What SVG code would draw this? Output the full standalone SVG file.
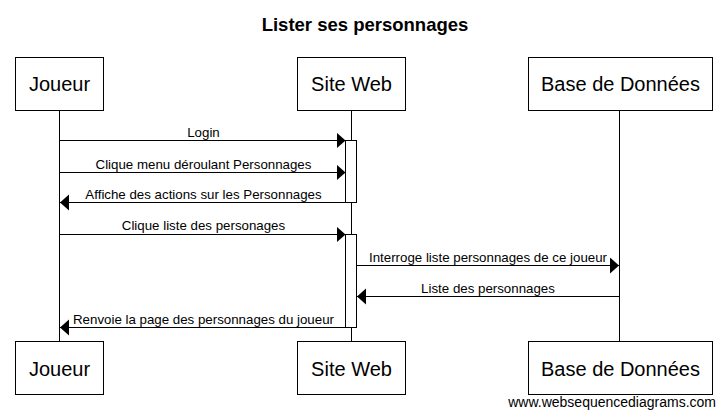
<svg xmlns="http://www.w3.org/2000/svg" width="726" height="419" viewBox="0 0 726 419">
<style>
text { font-family: "Liberation Sans", Arial, sans-serif; fill: #000; }
.title { font-size: 18.5px; font-weight: bold; text-anchor: middle; }
.actor rect { fill: #fff; stroke: #000; stroke-width: 1; }
.actor text { font-size: 20px; text-anchor: middle; }
.life { stroke: #000; stroke-width: 1; }
.act { fill: #fff; stroke: #000; stroke-width: 1; }
.msg line { stroke: #000; stroke-width: 1; marker-end: url(#arrow); }
.msg text { font-size: 13.3px; text-anchor: middle; }
.wm { font-size: 14px; text-anchor: end; }
</style>
<defs>
<marker id="arrow" markerUnits="userSpaceOnUse" markerWidth="10" markerHeight="17" refX="9" refY="8" orient="auto" viewBox="0 0 10 17">
<path d="M0,0 L9,8 L0,16 z" fill="#000"/>
</marker>
</defs>
<rect width="726" height="419" fill="#fff"/>
<text class="title" x="365" y="31">Lister ses personnages</text>
<g id="lifelines">
<line class="life" x1="59.5" y1="110" x2="59.5" y2="341"/>
<line class="life" x1="351.5" y1="110" x2="351.5" y2="341"/>
<line class="life" x1="619.5" y1="110" x2="619.5" y2="341"/>
</g>
<g id="activations">
<rect class="act" x="345.5" y="140.5" width="11" height="62"/>
<rect class="act" x="345.5" y="234.5" width="11" height="93"/>
</g>
<g id="joueur-top" class="actor"><rect x="15.5" y="57.5" width="88" height="53"/><text x="59.5" y="91">Joueur</text></g>
<g id="siteweb-top" class="actor"><rect x="297.5" y="57.5" width="108" height="53"/><text x="351.5" y="91">Site Web</text></g>
<g id="bdd-top" class="actor"><rect x="528.5" y="57.5" width="184" height="53"/><text x="620.5" y="91">Base de Données</text></g>
<g id="joueur-bottom" class="actor"><rect x="15.5" y="341.5" width="88" height="53"/><text x="59.5" y="376">Joueur</text></g>
<g id="siteweb-bottom" class="actor"><rect x="297.5" y="341.5" width="108" height="53"/><text x="351.5" y="376">Site Web</text></g>
<g id="bdd-bottom" class="actor"><rect x="528.5" y="341.5" width="184" height="53"/><text x="620.5" y="376">Base de Données</text></g>
<g id="connectors" class="msg">
<line x1="59.5" y1="140.5" x2="345.5" y2="140.5"/><text x="203.5" y="137">Login</text>
<line x1="59.5" y1="172.5" x2="345.5" y2="172.5"/><text x="203.5" y="169">Clique menu déroulant Personnages</text>
<line x1="345.5" y1="202.5" x2="60" y2="202.5"/><text x="203.5" y="199">Affiche des actions sur les Personnages</text>
<line x1="59.5" y1="234.5" x2="345.5" y2="234.5"/><text x="203.5" y="230">Clique liste des personages</text>
<line x1="356.5" y1="265.5" x2="619" y2="265.5"/><text x="488" y="262">Interroge liste personnages de ce joueur</text>
<line x1="619.5" y1="296.5" x2="357" y2="296.5"/><text x="488" y="293">Liste des personnages</text>
<line x1="345.5" y1="327.5" x2="60" y2="327.5"/><text x="203.5" y="324">Renvoie la page des personnages du joueur</text>
</g>
<text class="wm" x="716" y="407">www.websequencediagrams.com</text>
</svg>
